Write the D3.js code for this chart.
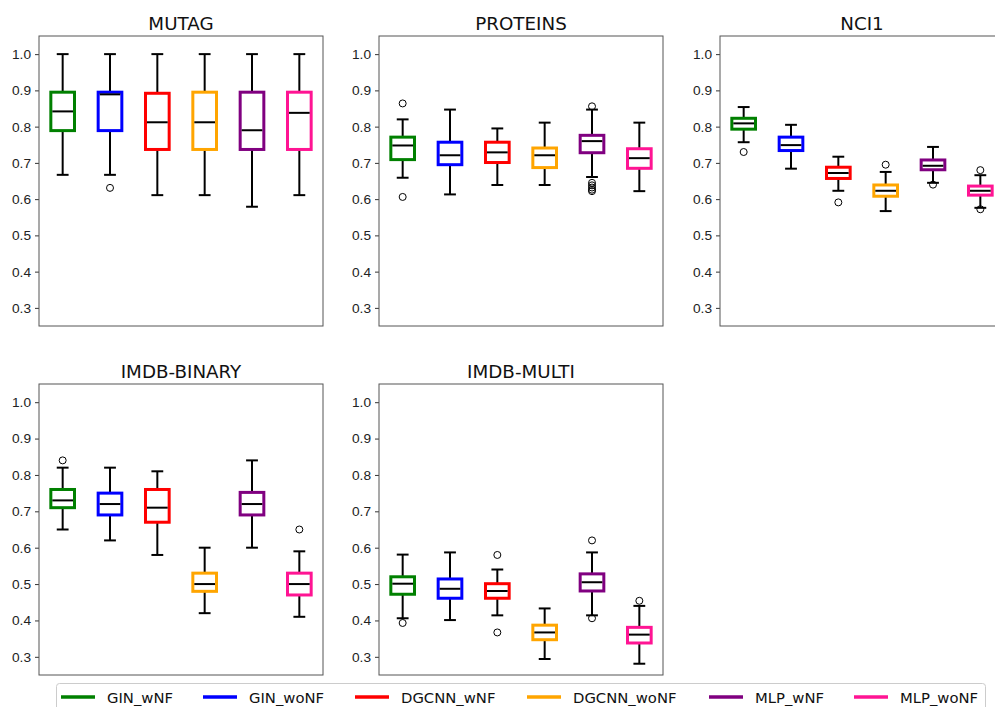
<!DOCTYPE html>
<html>
<head>
<meta charset="utf-8">
<script src="https://cdn.jsdelivr.net/npm/d3@7"></script>
<style>
  body { margin: 0; background: #fff; }
  svg { font-family: "DejaVu Sans", sans-serif; }
</style>
</head>
<body>
<div id="chart"></div>
<script>
// models / legend
const models = ["GIN_wNF", "GIN_woNF", "DGCNN_wNF", "DGCNN_woNF", "MLP_wNF", "MLP_woNF"];
const colors = ["green", "blue", "red", "orange", "purple", "deeppink"];
const datasets = ["MUTAG", "PROTEINS", "NCI1", "IMDB-BINARY", "IMDB-MULTI"];
const yTicks = [0.3, 0.4, 0.5, 0.6, 0.7, 0.8, 0.9, 1.0];

// box stats per model: [whisker low, q1, median, q3, whisker high]
const mutag = [
  [0.667, 0.789, 0.842, 0.895, 1.0],
  [0.667, 0.789, 0.889, 0.895, 1.0],
  [0.611, 0.737, 0.812, 0.892, 1.0],
  [0.611, 0.737, 0.812, 0.895, 1.0],
  [0.579, 0.737, 0.790, 0.895, 1.0],
  [0.611, 0.737, 0.838, 0.895, 1.0]
];
const proteins = [
  [0.659, 0.709, 0.748, 0.771, 0.820],
  [0.613, 0.695, 0.721, 0.757, 0.847],
  [0.639, 0.701, 0.729, 0.757, 0.795],
  [0.639, 0.687, 0.721, 0.741, 0.811],
  [0.661, 0.728, 0.760, 0.776, 0.847],
  [0.622, 0.685, 0.713, 0.739, 0.811]
];
const nci1 = [
  [0.757, 0.793, 0.809, 0.823, 0.854],
  [0.684, 0.734, 0.749, 0.771, 0.805],
  [0.623, 0.657, 0.672, 0.688, 0.717],
  [0.567, 0.608, 0.623, 0.639, 0.675],
  [0.645, 0.681, 0.692, 0.708, 0.744],
  [0.576, 0.611, 0.623, 0.636, 0.666]
];
const imdbBinary = [
  [0.65, 0.71, 0.73, 0.76, 0.82],
  [0.62, 0.69, 0.72, 0.75, 0.82],
  [0.58, 0.67, 0.71, 0.76, 0.81],
  [0.42, 0.48, 0.50, 0.53, 0.60],
  [0.60, 0.69, 0.72, 0.752, 0.84],
  [0.41, 0.47, 0.50, 0.53, 0.59]
];
const imdbMulti = [
  [0.406, 0.472, 0.501, 0.520, 0.581],
  [0.401, 0.461, 0.487, 0.514, 0.587],
  [0.414, 0.461, 0.481, 0.501, 0.540],
  [0.294, 0.347, 0.367, 0.387, 0.433],
  [0.414, 0.481, 0.505, 0.528, 0.587],
  [0.281, 0.338, 0.361, 0.381, 0.440]
];
const stats = [mutag, proteins, nci1, imdbBinary, imdbMulti];

// outliers per dataset, per model
const outliers = [
  [[], [0.631], [], [], [], []],
  [[0.864, 0.606], [], [], [], [0.856, 0.645, 0.638, 0.632, 0.626, 0.622], []],
  [[0.730], [], [0.591], [0.695], [0.640], [0.680, 0.572]],
  [[0.84], [], [], [], [], [0.65]],
  [[0.393], [], [0.58, 0.367], [], [0.620, 0.406], [0.454]]
];

const W = 995, H = 707;
const axW = 284;
const panels = [
  { x: 39, y: 36, h: 290 },
  { x: 379, y: 36, h: 290 },
  { x: 720, y: 36, h: 290 },
  { x: 39, y: 384, h: 291 },
  { x: 379, y: 384, h: 291 }
];

const svg = d3.select("#chart").append("svg")
  .attr("width", W)
  .attr("height", H);

const xScale = d3.scaleLinear().domain([0.5, 6.5]).range([0, axW]);
const boxW = 0.5 * (xScale(1) - xScale(0));
const capW = boxW * 0.5;

panels.forEach((p, di) => {
  const yScale = d3.scaleLinear().domain([0.25, 1.05]).range([p.h, 0]);
  const g = svg.append("g").attr("transform", `translate(${p.x},${p.y})`);

  // y axis
  const yAxis = d3.axisLeft(yScale).tickValues(yTicks).tickFormat(d3.format(".1f")).tickSize(4).tickPadding(4);
  const ya = g.append("g").call(yAxis);
  ya.select(".domain").remove();
  ya.selectAll("text").attr("font-size", 13.7).attr("fill", "#222");
  ya.selectAll("line").attr("stroke", "#333");

  const boxes = g.selectAll("g.box")
    .data(stats[di])
    .enter()
    .append("g")
    .attr("class", "box");

  // whiskers
  boxes.append("line")
    .attr("x1", (d, i) => xScale(i + 1)).attr("x2", (d, i) => xScale(i + 1))
    .attr("y1", d => yScale(d[0])).attr("y2", d => yScale(d[1]))
    .attr("stroke", "black").attr("stroke-width", 2);
  boxes.append("line")
    .attr("x1", (d, i) => xScale(i + 1)).attr("x2", (d, i) => xScale(i + 1))
    .attr("y1", d => yScale(d[3])).attr("y2", d => yScale(d[4]))
    .attr("stroke", "black").attr("stroke-width", 2);
  // caps
  [0, 4].forEach(k => {
    boxes.append("line")
      .attr("x1", (d, i) => xScale(i + 1) - capW / 2).attr("x2", (d, i) => xScale(i + 1) + capW / 2)
      .attr("y1", d => yScale(d[k])).attr("y2", d => yScale(d[k]))
      .attr("stroke", "black").attr("stroke-width", 2);
  });
  // box
  boxes.append("rect")
    .attr("x", (d, i) => xScale(i + 1) - boxW / 2)
    .attr("width", boxW)
    .attr("y", d => yScale(d[3]))
    .attr("height", d => yScale(d[1]) - yScale(d[3]))
    .attr("fill", "white")
    .attr("stroke", (d, i) => colors[i])
    .attr("stroke-width", 3);
  // median
  boxes.append("line")
    .attr("x1", (d, i) => xScale(i + 1) - boxW / 2 + 1.5).attr("x2", (d, i) => xScale(i + 1) + boxW / 2 - 1.5)
    .attr("y1", d => yScale(d[2])).attr("y2", d => yScale(d[2]))
    .attr("stroke", "black").attr("stroke-width", 2);

  // fliers
  const fl = [];
  outliers[di].forEach((arr, i) => arr.forEach(v => fl.push({ i, v })));
  g.selectAll("circle.flier")
    .data(fl)
    .enter()
    .append("circle")
    .attr("class", "flier")
    .attr("cx", d => xScale(d.i + 1))
    .attr("cy", d => yScale(d.v))
    .attr("r", 3.5)
    .attr("fill", "none")
    .attr("stroke", "black")
    .attr("stroke-width", 1);

  // frame
  g.append("rect")
    .attr("width", axW).attr("height", p.h)
    .attr("fill", "none").attr("stroke", "#555").attr("stroke-width", 1);

  // title
  g.append("text")
    .attr("x", axW / 2).attr("y", -6)
    .attr("text-anchor", "middle")
    .attr("font-size", 18.3)
    .attr("fill", "#111")
    .text(datasets[di]);
});

// legend
const legend = svg.append("g");
legend.append("rect")
  .attr("x", 56.5).attr("y", 683.5)
  .attr("width", 929).attr("height", 34)
  .attr("rx", 3)
  .attr("fill", "white").attr("stroke", "#ccc");
const legX = [61, 203, 355, 527, 709, 854];
const items = legend.selectAll("g.item")
  .data(models)
  .enter()
  .append("g")
  .attr("transform", (d, i) => `translate(${legX[i]},697)`);
items.append("line")
  .attr("x1", 0).attr("x2", 34)
  .attr("stroke", (d, i) => colors[i]).attr("stroke-width", 3.5);
items.append("text")
  .attr("x", 46).attr("y", 5.5)
  .attr("font-size", 14.8)
  .attr("fill", "#111")
  .text(d => d);
</script>
</body>
</html>
